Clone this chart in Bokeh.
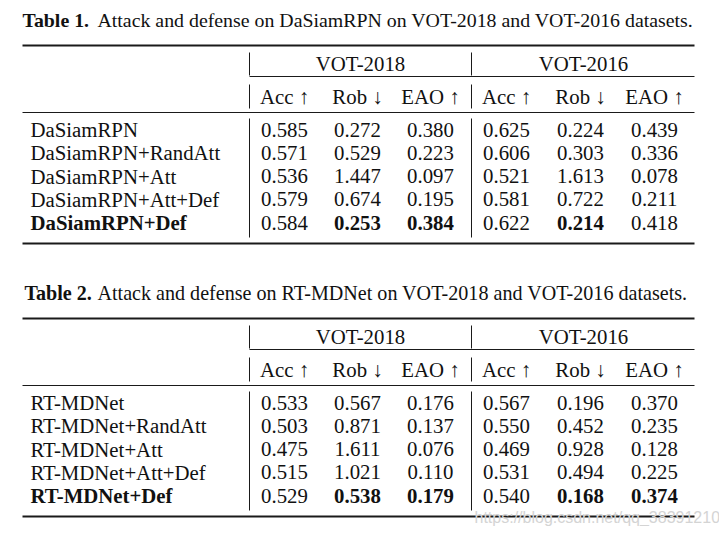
from bokeh.plotting import figure
from bokeh.models import Range1d, ColumnDataSource
from bokeh.core.properties import value
from bokeh.embed import file_html
from bokeh.resources import INLINE

# ---------------- data ----------------
captions = ["Attack and defense on DaSiamRPN on VOT-2018 and VOT-2016 datasets.",
            "Attack and defense on RT-MDNet on VOT-2018 and VOT-2016 datasets."]
caption_tags = ["Table 1.", "Table 2."]
datasets = ["VOT-2018", "VOT-2016"]
metrics = ["Acc \u2191", "Rob \u2193", "EAO \u2191"]

methods_1 = ["DaSiamRPN", "DaSiamRPN+RandAtt", "DaSiamRPN+Att", "DaSiamRPN+Att+Def", "DaSiamRPN+Def"]
acc18_1 = [0.585, 0.571, 0.536, 0.579, 0.584]
rob18_1 = [0.272, 0.529, 1.447, 0.674, 0.253]
eao18_1 = [0.380, 0.223, 0.097, 0.195, 0.384]
acc16_1 = [0.625, 0.606, 0.521, 0.581, 0.622]
rob16_1 = [0.224, 0.303, 1.613, 0.722, 0.214]
eao16_1 = [0.439, 0.336, 0.078, 0.211, 0.418]
bold_cols_1 = [1, 2, 4]

methods_2 = ["RT-MDNet", "RT-MDNet+RandAtt", "RT-MDNet+Att", "RT-MDNet+Att+Def", "RT-MDNet+Def"]
acc18_2 = [0.533, 0.503, 0.475, 0.515, 0.529]
rob18_2 = [0.567, 0.871, 1.611, 1.021, 0.538]
eao18_2 = [0.176, 0.137, 0.076, 0.110, 0.179]
acc16_2 = [0.567, 0.550, 0.469, 0.531, 0.540]
rob16_2 = [0.196, 0.452, 0.928, 0.494, 0.168]
eao16_2 = [0.370, 0.235, 0.128, 0.225, 0.374]
bold_cols_2 = [1, 2, 4, 5]

watermark = "https://blog.csdn.net/qq_38391210"

# ---------------- layout ----------------
W, H = 719, 526
p = figure(width=W, height=H, output_backend="svg", toolbar_location=None,
           x_range=Range1d(0, W), y_range=Range1d(H, 0),
           min_border=0, background_fill_color="white", border_fill_color="white")
p.axis.visible = False
p.xgrid.visible = False
p.ygrid.visible = False
p.outline_line_color = None

SERIF = value("Liberation Serif")
INK = "#111111"
BODY = "20.8px"
CAP = ["19.85px", "20.1px"]

col_x = [284, 357, 430, 506, 580, 654]
hdr_x = [360, 583]
vline_x = [249, 471]
x_left, x_right = 22, 694
name_x = 30


def txt(x, y, s, size=BODY, align="center", style="normal", color=INK, font=SERIF):
    src = ColumnDataSource(dict(x=x, y=y, t=s))
    p.text(x="x", y="y", text="t", source=src, text_font=font, text_font_size=size,
           text_align=align, text_baseline="middle", text_color=color,
           text_font_style=style)


def seg(x0, y0, x1, y1, w):
    src = ColumnDataSource(dict(x0=x0, y0=y0, x1=x1, y1=y1))
    p.segment(x0="x0", y0="y0", x1="x1", y1="y1", source=src, line_color="#1a1a1a",
              line_width=w)


tables = [
    (methods_1, [acc18_1, rob18_1, eao18_1, acc16_1, rob16_1, eao16_1], bold_cols_1),
    (methods_2, [acc18_2, rob18_2, eao18_2, acc16_2, rob16_2, eao16_2], bold_cols_2),
]

for ti, (methods, cols, bold_cols) in enumerate(tables):
    off = 273 * ti
    # caption
    cap_y = 19 + off
    txt([22 + 2 * ti], [cap_y], [caption_tags[ti]], size=CAP[ti], align="left", style="bold")
    txt([97], [cap_y], [captions[ti]], size=CAP[ti], align="left")
    # rules
    seg([x_left], [45 + off], [x_right], [45 + off], 2)
    seg([vline_x[0]], [76 + off], [x_right], [76 + off], 1)
    seg([x_left], [112 + off], [x_right], [112 + off], 1)
    seg([x_left], [243 + off], [x_right], [243 + off], 2)
    # vertical lines
    for vx in vline_x:
        seg([vx, vx, vx], [52 + off, 84 + off, 118 + off],
            [vx, vx, vx], [75 + off, 108 + off, 237 + off], 1)
    # headers
    txt(hdr_x, [63 + off] * 2, datasets)
    txt(col_x, [96 + off] * 6, metrics * 2)
    # rows
    row_y = [129 + off + 23.3 * i for i in range(len(methods))]
    txt([name_x] * (len(methods) - 1), row_y[:-1], methods[:-1], align="left")
    txt([name_x], [row_y[-1]], [methods[-1]], align="left", style="bold")
    for ci, col in enumerate(cols):
        labels = ["%.3f" % v for v in col]
        txt([col_x[ci]] * (len(col) - 1), row_y[:-1], labels[:-1])
        txt([col_x[ci]], [row_y[-1]], [labels[-1]],
            style="bold" if ci in bold_cols else "normal")

# watermark
txt([474], [517], [watermark], size="16px", align="left", color="#d4d4d4",
    font=value("Liberation Sans"))

open("out.html", "w").write(file_html(p, INLINE))
